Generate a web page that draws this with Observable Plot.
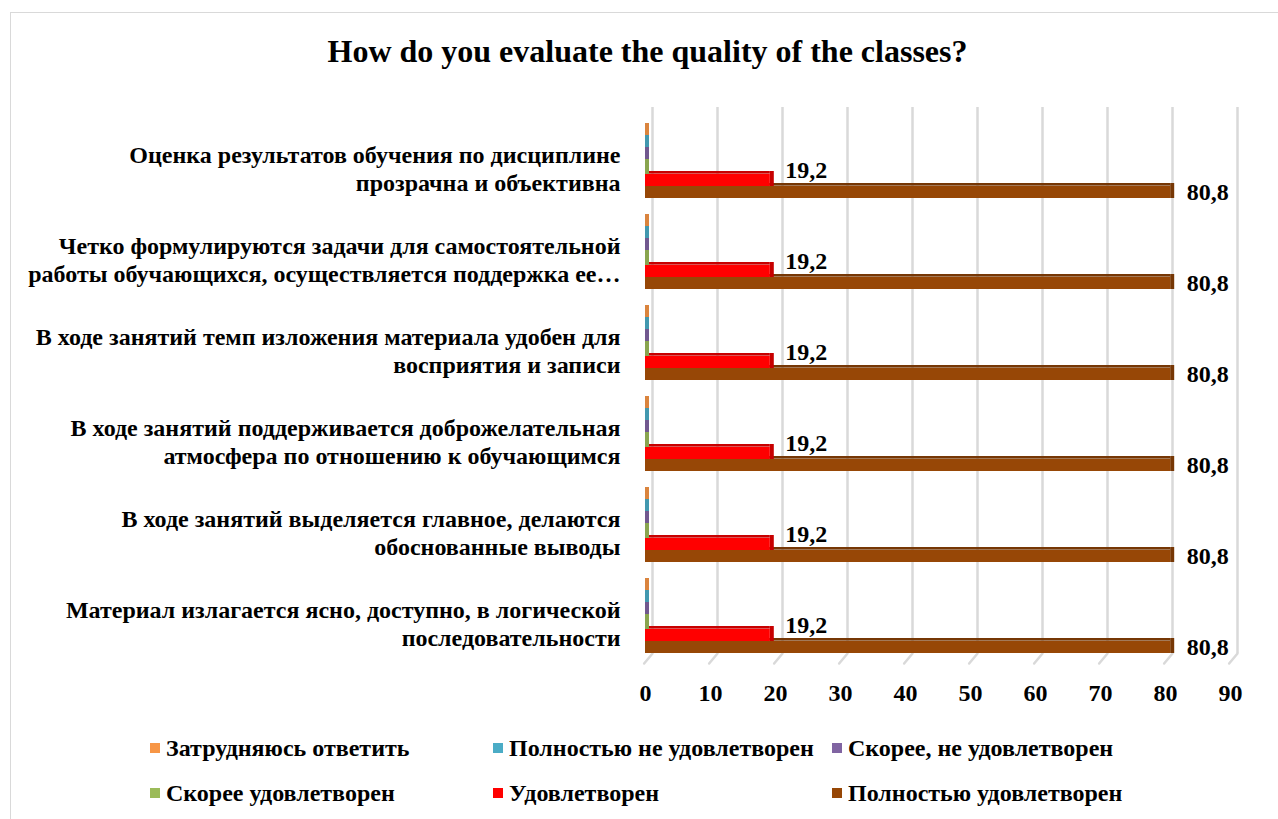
<!DOCTYPE html>
<html>
<head>
<meta charset="utf-8">
<script src="https://cdn.jsdelivr.net/npm/d3@7"></script>
<script src="https://cdn.jsdelivr.net/npm/@observablehq/plot@0.6"></script>
<style>
  html, body { margin: 0; padding: 0; background: #fff; }
  body { width: 1278px; height: 819px; position: relative; overflow: hidden;
         font-family: "Liberation Serif", "Times New Roman", serif; font-weight: bold; color: #000; }
  #frame { position: absolute; left: 10px; top: 12px; width: 1290px; height: 830px;
           border: 1px solid #d9d9d9; box-sizing: border-box; }
  #title { position: absolute; left: 10px; width: 1275px; top: 35px; text-align: center;
           font-size: 32px; line-height: 32px; }
  #chart { position: absolute; left: 0; top: 0; }
  #legend { position: absolute; left: 150px; top: 736px; display: grid;
            grid-template-columns: 343px 339px auto; row-gap: 21px; font-size: 24px; }
  .item { display: flex; align-items: center; height: 24px; white-space: nowrap; }
  .sw { width: 10px; height: 10px; margin-right: 6px; flex: none; }
</style>
</head>
<body>
<div id="frame"></div>
<div id="title">How do you evaluate the quality of the classes?</div>
<div id="chart"></div>
<div id="legend"></div>
<script>
// ---- data ----
const categories = [
  "Оценка результатов обучения по дисциплине\nпрозрачна и объективна",
  "Четко формулируются задачи для самостоятельной\nработы обучающихся, осуществляется поддержка ее…",
  "В ходе занятий темп изложения материала удобен для\nвосприятия и записи",
  "В ходе занятий поддерживается доброжелательная\nатмосфера по отношению к обучающимся",
  "В ходе занятий выделяется главное, делаются\nобоснованные выводы",
  "Материал излагается ясно, доступно, в логической\nпоследовательности"
];
const series = [
  "Затрудняюсь ответить",
  "Полностью не удовлетворен",
  "Скорее, не удовлетворен",
  "Скорее удовлетворен",
  "Удовлетворен",
  "Полностью удовлетворен"
];
const colors = ["#F79646", "#4BACC6", "#8064A2", "#9BBB59", "#FF0000", "#974706"];
const hardToSay      = [0, 0, 0, 0, 0, 0];
const fullyUnsat     = [0, 0, 0, 0, 0, 0];
const ratherUnsat    = [0, 0, 0, 0, 0, 0];
const ratherSat      = [0, 0, 0, 0, 0, 0];
const satisfied      = [19.2, 19.2, 19.2, 19.2, 19.2, 19.2];
const fullySat       = [80.8, 80.8, 80.8, 80.8, 80.8, 80.8];
const seriesValues = [hardToSay, fullyUnsat, ratherUnsat, ratherSat, satisfied, fullySat];
const xTicks = [0, 10, 20, 30, 40, 50, 60, 70, 80, 90];

// ---- table ----
const rows = [];
categories.forEach((c, ci) => {
  series.forEach((s, si) => {
    rows.push({
      category: c, series: s, value: seriesValues[si][ci],
      color: colors[si],
      dark: d3.color(colors[si]).darker(si >= 4 ? 0.7 : 0.35).formatHex()
    });
  });
});
const fmt = v => v.toFixed(1).replace(".", ",");

// ---- layout ----
const W = 1278, H = 720;
const mTop = 106, mBottom = 65.6;
const facetH = (H - mTop - mBottom) / categories.length;
const padOuter = 0.705;
const bw = facetH / (series.length + 2 * padOuter);

const chart = Plot.plot({
  width: W, height: H,
  marginLeft: 645, marginRight: 48, marginTop: mTop, marginBottom: mBottom,
  style: { fontFamily: "'Liberation Serif', 'Times New Roman', serif", fontWeight: "bold", fontSize: "24px", color: "#000", background: "transparent" },
  x: { domain: [0, 90], ticks: xTicks, tickSize: 0, tickPadding: 30, label: null, tickFormat: d => String(d) },
  y: { domain: series, paddingInner: 0, paddingOuter: padOuter, align: 1, axis: null },
  fy: { domain: categories, padding: 0, axis: null },
  color: { type: "identity" },
  marks: [
    Plot.ruleX(xTicks, { x: d => d, dx: 7, stroke: "#d9d9d9", strokeWidth: 2.5 }),
    Plot.vector(xTicks, {
      x: d => d, fy: () => categories[categories.length - 1], frameAnchor: "bottom",
      dx: 7, rotate: 220, length: 13, anchor: "start", stroke: "#d9d9d9", strokeWidth: 2.5,
      shape: { draw(ctx, l) { ctx.moveTo(0, 0); ctx.lineTo(0, -l); } }
    }),
    // top faces (3D)
    Plot.barX(rows.filter(d => d.value > 0), {
      x1: 0, x2: "value", y: "series", fy: "category", fill: "dark",
      insetTop: -3, insetBottom: bw
    }),
    // side faces (3D) incl. zero-value slivers
    Plot.barX(rows, {
      x1: "value", x2: "value", y: "series", fy: "category", fill: "dark",
      insetRight: -4, insetTop: -3
    }),
    // front faces
    Plot.barX(rows.filter(d => d.value > 0), {
      x1: 0, x2: "value", y: "series", fy: "category", fill: "color"
    }),
    Plot.text(rows.filter(d => d.series === "Удовлетворен"), {
      x: "value", y: "series", fy: "category", text: d => fmt(d.value),
      dx: 15, dy: -10, textAnchor: "start", fontSize: 24, fontWeight: "bold", fill: "#000"
    }),
    Plot.text(rows.filter(d => d.series === "Полностью удовлетворен"), {
      x: "value", y: "series", fy: "category", text: d => fmt(d.value),
      dx: 16, dy: 0, textAnchor: "start", fontSize: 24, fontWeight: "bold", fill: "#000"
    }),
    Plot.text(categories, {
      fy: d => d, text: d => d, frameAnchor: "left", dx: -25, dy: 14.8,
      textAnchor: "end", lineHeight: 1.2, fontSize: 24, fontWeight: "bold", fill: "#000"
    })
  ]
});
document.getElementById("chart").appendChild(chart);

// ---- legend ----
const legend = document.getElementById("legend");
series.forEach((s, i) => {
  const it = document.createElement("div");
  it.className = "item";
  const sw = document.createElement("span");
  sw.className = "sw";
  sw.style.background = colors[i];
  it.appendChild(sw);
  it.appendChild(document.createTextNode(s));
  legend.appendChild(it);
});
</script>
</body>
</html>
